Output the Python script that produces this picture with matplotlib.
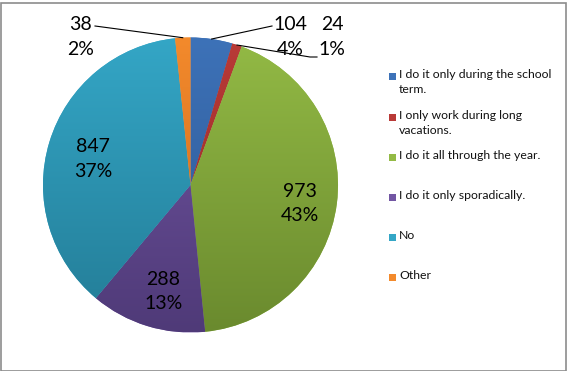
import matplotlib.pyplot as plt
import numpy as np
from matplotlib.colors import LinearSegmentedColormap
from matplotlib.patches import Rectangle

plt.rcParams['font.family'] = ['Lato', 'DejaVu Sans']

# data
categories = ["I do it only during the school term.",
              "I only work during long vacations.",
              "I do it all through the year.",
              "I do it only sporadically.",
              "No",
              "Other"]
legend_text = ["I do it only during the school\nterm.",
               "I only work during long\nvacations.",
               "I do it all through the year.",
               "I do it only sporadically.",
               "No",
               "Other"]
counts = [104, 24, 973, 288, 847, 38]
percents = ["4%", "1%", "43%", "13%", "37%", "2%"]

# light (top) / dark (bottom) shade of each slice
top_colors = ["#3D72B8", "#B93A37", "#93BA45", "#7256A3", "#34A6C6", "#F38A2C"]
bottom_colors = ["#2B5590", "#8F2A28", "#6A8A2E", "#4F3A78", "#237C96", "#C9661A"]

W, H = 568, 371
fig = plt.figure(figsize=(W / 100, H / 100), dpi=100)
ax = fig.add_axes([0, 0, 1, 1])

cx, cy, r = 190.5, 185, 147.5
# y axis is flipped below, so counter-clockwise in data = clockwise on screen
wedges, _ = ax.pie(counts, center=(cx, cy), radius=r, startangle=-90,
                   counterclock=True, colors=top_colors,
                   wedgeprops=dict(linewidth=0), frame=True)

grad = np.linspace(0, 1, 256).reshape(-1, 1)
for w, c0, c1 in zip(wedges, top_colors, bottom_colors):
    cmap = LinearSegmentedColormap.from_list('g', [c0, c1])
    im = ax.imshow(grad, cmap=cmap, extent=(cx - r, cx + r, cy + r, cy - r),
                   origin='upper', interpolation='bilinear', zorder=2)
    im.set_clip_path(w)

ax.set_aspect('auto')
ax.set_xlim(0, W)
ax.set_ylim(H, 0)
ax.axis('off')

mids = [np.deg2rad((w.theta1 + w.theta2) / 2) for w in wedges]

# labels inside the big slices
for i in [2, 3, 4]:
    lx = cx + 0.72 * r * np.cos(mids[i])
    ly = cy + 0.72 * r * np.sin(mids[i]) + 5
    ax.text(lx + 4, ly, f"{counts[i]}\n{percents[i]}", ha='center', va='center',
            fontsize=14, linespacing=1.55, zorder=5)

# outside labels with leader lines for the small slices
outside = {0: (290, 37, [(272, 26)]),
           1: (332, 37, [(310, 57), (317, 57)]),
           5: (81, 37, [(95, 26)])}
for i, (tx, ty, pts) in outside.items():
    ex = cx + r * np.cos(mids[i])
    ey = cy + r * np.sin(mids[i])
    xs = [ex] + [p[0] for p in pts]
    ys = [ey] + [p[1] for p in pts]
    ax.plot(xs, ys, color='black', lw=0.8, zorder=4)
    ax.text(tx, ty, f"{counts[i]}\n{percents[i]}", ha='center', va='center',
            fontsize=14, linespacing=1.55, zorder=5)

# legend
legend_y = [76, 117, 157, 197, 237, 277]
for txt, col, y in zip(legend_text, top_colors, legend_y):
    ax.add_patch(Rectangle((389, y - 3.5), 7, 7, facecolor=col, edgecolor='none'))
    ax.text(399, y - 7, txt, ha='left', va='top', fontsize=8.8,
            linespacing=1.42, color='#111111')

# chart border
fig.add_artist(Rectangle((0.5 / W, 0.5 / H), (W - 3) / W, (H - 3) / H,
                         transform=fig.transFigure, fill=False,
                         edgecolor='#8c8c8c', lw=1.2))

fig.savefig('out.png', dpi=100)
